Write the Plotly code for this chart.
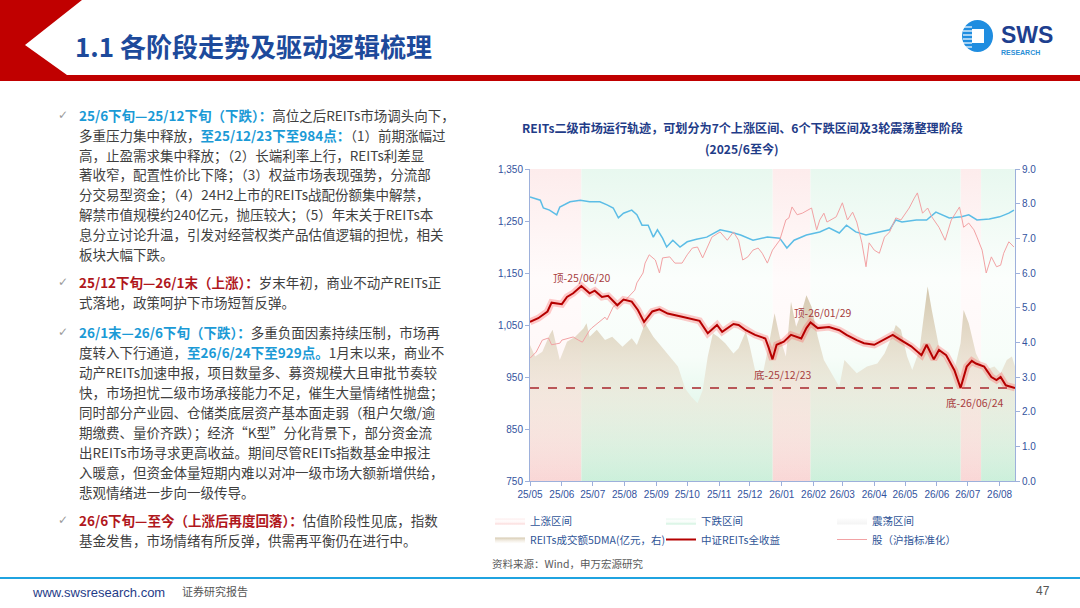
import plotly.graph_objects as go

# ---------------- data ----------------
x_start, x_end = "2025-05-01", "2026-08-16"

# 中证REITs全收益 (left axis)
reits_dates = ["2025-05-01","2025-05-09","2025-05-18","2025-05-22","2025-06-01","2025-06-06","2025-06-12","2025-06-17",
               "2025-06-20","2025-06-28","2025-07-03","2025-07-10","2025-07-16","2025-07-25","2025-07-31","2025-08-08",
               "2025-08-14","2025-08-20","2025-08-28","2025-09-04","2025-09-12","2025-09-26","2025-10-13","2025-10-21",
               "2025-10-30","2025-11-04","2025-11-15","2025-11-20","2025-11-27","2025-12-06","2025-12-16","2025-12-19",
               "2025-12-23","2025-12-27","2026-01-03","2026-01-10","2026-01-20","2026-01-25","2026-01-29","2026-02-05",
               "2026-02-16","2026-02-26","2026-03-05","2026-03-15","2026-03-22","2026-04-01","2026-04-09","2026-04-19",
               "2026-04-27","2026-05-07","2026-05-17","2026-05-22","2026-05-29","2026-06-03","2026-06-10","2026-06-18",
               "2026-06-24","2026-06-30","2026-07-05","2026-07-09","2026-07-17","2026-07-24","2026-07-29","2026-08-02",
               "2026-08-07","2026-08-13","2026-08-16"]
reits_vals = [1056,1063,1076,1093,1090,1104,1111,1121,
              1125,1111,1116,1104,1106,1088,1099,1095,
              1079,1056,1076,1080,1072,1066,1058,1034,
              1050,1037,1052,1050,1040,1031,1024,1008,
              984,1012,1018,1031,1024,1044,1055,1044,
              1046,1040,1031,1021,1015,1012,1020,1031,
              1021,1009,992,1012,984,1002,992,963,
              929,970,981,976,970,950,944,950,
              934,930,929]

# 股（沪指标准化） (left axis)
stock_dates = ["2025-05-01","2025-05-07","2025-05-13","2025-05-19","2025-05-22","2025-05-30","2025-06-01","2025-06-07",
               "2025-06-12","2025-06-17","2025-06-21","2025-06-28","2025-06-30","2025-07-13","2025-07-15","2025-07-21",
               "2025-07-31","2025-08-02","2025-08-11","2025-08-13","2025-08-19","2025-08-21","2025-08-25","2025-08-31",
               "2025-09-04","2025-09-07","2025-09-14","2025-09-19","2025-09-26","2025-10-01","2025-10-06","2025-10-11",
               "2025-10-16","2025-10-25","2025-11-02","2025-11-09","2025-11-15","2025-11-20","2025-11-24","2025-11-29",
               "2025-12-04","2025-12-09","2025-12-13","2025-12-18","2025-12-23","2025-12-30","2026-01-05","2026-01-08",
               "2026-01-11","2026-01-16","2026-01-21","2026-01-30","2026-02-04","2026-02-07","2026-02-11","2026-02-14",
               "2026-02-23","2026-03-01","2026-03-06","2026-03-11","2026-03-15","2026-03-20","2026-03-24","2026-03-27",
               "2026-04-01","2026-04-06","2026-04-11","2026-04-16","2026-04-22","2026-04-27","2026-05-05","2026-05-10",
               "2026-05-13","2026-05-18","2026-05-23","2026-05-27","2026-06-03","2026-06-09","2026-06-15","2026-06-23",
               "2026-06-27","2026-07-02","2026-07-07","2026-07-10","2026-07-15","2026-07-19","2026-07-24","2026-07-29",
               "2026-08-02","2026-08-05","2026-08-10","2026-08-15"]
stock_vals = [986,998,1021,1025,1012,1015,1021,1025,
              1027,1021,1017,1040,1044,1065,1060,1085,
              1098,1098,1117,1131,1150,1169,1185,1175,
              1150,1179,1181,1169,1169,1185,1198,1200,
              1179,1219,1229,1213,1229,1213,1175,1181,
              1194,1198,1188,1169,1194,1213,1252,1256,
              1277,1262,1265,1275,1233,1252,1265,1248,
              1258,1285,1252,1267,1248,1208,1162,1208,
              1194,1188,1219,1229,1256,1252,1275,1294,
              1304,1265,1275,1258,1238,1213,1252,1277,
              1238,1246,1233,1219,1194,1150,1181,1162,
              1165,1188,1210,1200]

# 未标注的蓝线 (left axis)
blue_dates = ["2025-05-01","2025-05-11","2025-05-14","2025-05-20","2025-05-27","2025-05-30","2025-06-09","2025-06-19",
              "2025-06-28","2025-07-08","2025-07-15","2025-07-21","2025-07-26","2025-07-31","2025-08-08","2025-08-13",
              "2025-08-18","2025-08-24","2025-08-29","2025-09-02","2025-09-07","2025-09-11","2025-09-17","2025-09-24",
              "2025-10-01","2025-10-10","2025-10-20","2025-11-02","2025-11-12","2025-11-22","2025-12-04","2025-12-18",
              "2025-12-30","2026-01-06","2026-01-13","2026-01-25","2026-02-07","2026-02-16","2026-02-26","2026-03-05",
              "2026-03-14","2026-03-24","2026-04-06","2026-04-16","2026-04-22","2026-04-28","2026-05-12","2026-05-22",
              "2026-05-31","2026-06-13","2026-06-25","2026-07-02","2026-07-10","2026-07-22","2026-08-01","2026-08-10",
              "2026-08-15"]
blue_vals = [1296,1290,1275,1271,1262,1277,1287,1290,
             1287,1287,1281,1275,1256,1265,1271,1262,
             1242,1242,1219,1233,1217,1200,1213,1200,
             1210,1215,1219,1233,1229,1223,1213,1219,
             1217,1198,1213,1223,1229,1237,1227,1242,
             1229,1223,1229,1233,1252,1248,1252,1252,
             1267,1256,1258,1262,1252,1254,1258,1265,
             1271]

# REITs成交额5DMA (亿元，右轴)
turn_dates = ["2025-05-01","2025-05-06","2025-05-13","2025-05-20","2025-05-23","2025-05-30","2025-06-06","2025-06-14",
              "2025-06-22","2025-06-25","2025-06-28","2025-07-05","2025-07-13","2025-07-20","2025-07-30","2025-08-08",
              "2025-08-13","2025-08-21","2025-08-29","2025-09-06","2025-09-12","2025-09-22","2025-09-29","2025-10-05",
              "2025-10-11","2025-10-16","2025-10-21","2025-10-26","2025-10-31","2025-11-07","2025-11-15","2025-11-20",
              "2025-11-27","2025-12-01","2025-12-06","2025-12-13","2025-12-19","2025-12-25","2025-12-30","2026-01-05",
              "2026-01-10","2026-01-15","2026-01-20","2026-01-25","2026-01-30","2026-02-05","2026-02-11","2026-02-18",
              "2026-02-26","2026-03-03","2026-03-10","2026-03-15","2026-03-25","2026-04-04","2026-04-11","2026-04-18",
              "2026-04-22","2026-04-27","2026-05-03","2026-05-08","2026-05-15","2026-05-20","2026-05-23","2026-05-27",
              "2026-06-03","2026-06-10","2026-06-18","2026-06-24","2026-06-27","2026-07-02","2026-07-09","2026-07-17",
              "2026-07-27","2026-08-02","2026-08-08","2026-08-13","2026-08-16"]
turn_vals = [3.92,3.59,3.73,4.21,4.36,3.49,4.02,4.16,
             4.40,4.55,4.16,4.36,4.07,4.16,3.87,4.12,
             3.92,4.55,4.16,3.87,3.68,3.30,2.67,2.43,
             2.24,2.62,3.59,4.26,4.16,3.97,3.68,3.83,
             4.31,3.87,3.20,3.01,3.87,4.84,4.16,3.59,
             5.17,4.45,4.84,5.36,5.03,4.16,3.49,3.11,
             2.72,3.49,3.25,3.11,3.30,3.39,3.68,4.16,
             4.50,4.36,3.59,3.20,3.78,4.93,5.61,4.93,
             3.87,3.49,3.20,3.97,4.93,4.55,3.68,3.20,
             3.30,3.11,3.49,3.59,3.30]

# 阶段划分
zone_starts = ["2025-05-01","2025-06-20","2025-12-23","2026-01-29","2026-06-24","2026-07-14"]
zone_ends   = ["2025-06-20","2025-12-23","2026-01-29","2026-06-24","2026-07-14","2026-08-16"]
zone_kinds  = ["上涨","下跌","上涨","下跌","上涨","下跌"]

floor_level = 929
left_ticks = [750, 850, 950, 1050, 1150, 1250, 1350]
right_ticks = [0, 1, 2, 3, 4, 5, 6, 7, 8, 9]

mark_kinds = ["顶", "底", "顶", "底"]
mark_dates = ["2025-06-20", "2025-12-23", "2026-01-29", "2026-06-24"]
mark_vals = [1125, 984, 1055, 929]

# ---------------- layout helpers ----------------
W, H = 1080, 608
ML, MR, MT, MB = 530, 65, 169, 127
PW, PH = W - ML - MR, H - MT - MB


def px(x):
    return (x - ML) / PW


def py(y):
    return (H - MB - y) / PH


CJK = "Noto Sans CJK SC"
TICKC = "#33539e"
AXC = "#9db0db"
BLUE_T = "#1b9ad6"
RED_T = "#b0171c"
BODY = "#3f3f3f"

fig = go.Figure()


def zone_path(kind):
    xs, ys = [], []
    lo, hi = right_ticks[0], right_ticks[-1]
    for s, e, k in zip(zone_starts, zone_ends, zone_kinds):
        if k == kind:
            xs += [s, e, e, s, s, None]
            ys += [lo, lo, hi, hi, lo, None]
    if not xs:  # no zone of this kind in the period: keep a legend entry only
        xs, ys = [x_start], [None]
    return xs, ys


zone_style = {
    "上涨": ("上涨区间", "rgb(252,228,228)",
           [[0, "rgb(250,214,214)"], [0.4, "rgb(255,248,248)"], [0.65, "rgb(255,251,251)"], [1, "rgb(253,236,236)"]], "legend"),
    "下跌": ("下跌区间", "rgb(222,245,232)",
           [[0, "rgb(202,240,219)"], [0.4, "rgb(247,253,249)"], [0.65, "rgb(251,254,252)"], [1, "rgb(232,248,239)"]], "legend2"),
    "震荡": ("震荡区间", "rgb(250,250,250)",
           [[0, "rgb(244,244,244)"], [1, "rgb(252,252,252)"]], "legend3"),
}
for kind in ["上涨", "下跌", "震荡"]:
    name, fc, cs, lg = zone_style[kind]
    xs, ys = zone_path(kind)
    fig.add_trace(go.Scatter(
        x=xs, y=ys, mode="lines", fill="toself", fillcolor=fc,
        fillgradient=dict(type="vertical", colorscale=cs),
        line=dict(width=0, color=fc), name=name, legend=lg, yaxis="y",
        hoverinfo="skip"))

fig.add_trace(go.Scatter(
    x=turn_dates, y=turn_vals, mode="lines", fill="tozeroy",
    fillcolor="rgba(214,200,172,0.8)",
    fillgradient=dict(type="vertical", start=0, stop=max(turn_vals),
                      colorscale=[[0, "rgba(240,233,218,0.05)"], [0.45, "rgba(234,225,208,0.55)"],
                                  [1, "rgba(208,194,166,0.92)"]]),
    line=dict(width=0, color="rgb(214,200,172)"),
    name="REITs成交额5DMA(亿元，右)", legend="legend", yaxis="y"))

fig.add_trace(go.Scatter(
    x=blue_dates, y=blue_vals, mode="lines", line=dict(color="#5cbde6", width=1.5),
    showlegend=False, yaxis="y2"))

fig.add_trace(go.Scatter(
    x=stock_dates, y=stock_vals, mode="lines", line=dict(color="#f2a2a4", width=1),
    name="股（沪指标准化）", legend="legend3", yaxis="y2"))

fig.add_trace(go.Scatter(
    x=[x_start, x_end], y=[floor_level, floor_level], mode="lines",
    line=dict(color="#a8262b", width=1.5, dash="dash"), showlegend=False, yaxis="y2"))

fig.add_trace(go.Scatter(
    x=reits_dates, y=reits_vals, mode="lines", line=dict(color="rgba(255,70,70,0.28)", width=7),
    showlegend=False, yaxis="y2", hoverinfo="skip"))
fig.add_trace(go.Scatter(
    x=reits_dates, y=reits_vals, mode="lines", line=dict(color="#b50000", width=2),
    name="中证REITs全收益", legend="legend2", yaxis="y2"))

ann = []
mark_shift = {"顶-25/06/20": (1, 9), "底-25/12/23": (10, -15), "顶-26/01/29": (12, 10), "底-26/06/24": (14, -15)}
for k, d, v in zip(mark_kinds, mark_dates, mark_vals):
    label = f"{k}-{d[2:].replace('-', '/')}"
    dx, dy = mark_shift[label]
    ann.append(dict(x=d, y=v, xref="x", yref="y2", text=label, showarrow=False,
                    xanchor="center", yanchor="middle",
                    xshift=dx, yshift=dy, font=dict(family=CJK, size=10.5, color="#a8403f")))


def txt(x, y, text, size, color, family=CJK, xanchor="left"):
    return dict(x=px(x), y=py(y), xref="paper", yref="paper", showarrow=False,
                xanchor=xanchor, yanchor="middle", text=text,
                font=dict(family=family, size=size, color=color))


# chart title & source
ann.append(txt(742, 127, "<b>REITs二级市场运行轨迹，可划分为7个上涨区间、6个下跌区间及3轮震荡整理阶段</b>",
               12.1, "#1f3c88", xanchor="center"))
ann.append(txt(742, 148, "<b>(2025/6至今)</b>", 12.1, "#1f3c88", xanchor="center"))
ann.append(txt(490, 563, "资料来源：Wind，申万宏源研究", 10.5, "#595959"))

# header
ann.append(txt(73, 45, "<b>1.1 各阶段走势及驱动逻辑梳理</b>", 26, "#1d4a9b"))
ann.append(txt(1027, 35, "<b>SWS</b>", 23, "#1e3f8f", family="Liberation Sans", xanchor="center"))
ann.append(txt(1020, 52, "<b>RESEARCH</b>", 7, "#2b8fd6", family="Liberation Sans", xanchor="center"))

# footer
ann.append(txt(30, 592, "www.swsresearch.com", 13, "#1f3c88", family="Liberation Sans Narrow, Liberation Sans"))
ann.append(txt(180, 591, "证券研究报告", 11, "#555555"))
ann.append(txt(1052, 591, "47", 12, "#555555", family="Liberation Sans", xanchor="right"))


def c(t, col):
    return f'<span style="color:{col}"><b>{t}</b></span>'


paragraphs = [
    (115, 19.8, [
        c("25/6下旬—25/12下旬（下跌）：", BLUE_T) + "高位之后REITs市场调头向下，",
        "多重压力集中释放，" + c("至25/12/23下至984点：", BLUE_T) + "（1）前期涨幅过",
        "高，止盈需求集中释放；（2）长端利率上行，REITs利差显",
        "著收窄，配置性价比下降；（3）权益市场表现强势，分流部",
        "分交易型资金；（4）24H2上市的REITs战配份额集中解禁，",
        "解禁市值规模约240亿元，抛压较大；（5）年末关于REITs本",
        "息分立讨论升温，引发对经营权类产品估值逻辑的担忧，相关",
        "板块大幅下跌。",
    ]),
    (282, 20, [
        c("25/12下旬—26/1末（上涨）：", RED_T) + "岁末年初，商业不动产REITs正",
        "式落地，政策呵护下市场短暂反弹。",
    ]),
    (332, 20, [
        c("26/1末—26/6下旬（下跌）：", BLUE_T) + "多重负面因素持续压制，市场再",
        "度转入下行通道，" + c("至26/6/24下至929点。", BLUE_T) + "1月末以来，商业不",
        "动产REITs加速申报，项目数量多、募资规模大且审批节奏较",
        "快，市场担忧二级市场承接能力不足，催生大量情绪性抛盘；",
        "同时部分产业园、仓储类底层资产基本面走弱（租户欠缴/逾",
        "期缴费、量价齐跌）；经济“K型”分化背景下，部分资金流",
        "出REITs市场寻求更高收益。期间尽管REITs指数基金申报注",
        "入暖意，但资金体量短期内难以对冲一级市场大额新增供给，",
        "悲观情绪进一步向一级传导。",
    ]),
    (520, 19.5, [
        c("26/6下旬—至今（上涨后再度回落）：", RED_T) + "估值阶段性见底，指数",
        "基金发售，市场情绪有所反弹，供需再平衡仍在进行中。",
    ]),
]
for y0, dy, lines in paragraphs:
    ann.append(txt(56, y0, "✓", 12, "#9a9a9a", family="DejaVu Sans"))
    for i, t in enumerate(lines):
        ann.append(txt(77, y0 + i * dy, t, 13.5, BODY))


# shapes: header chevron, bar, logo, footer line
def P(x, y):
    return f"{px(x):.5f},{py(y):.5f}"


shapes = [
    dict(type="path", xref="paper", yref="paper", layer="above", line=dict(width=0), fillcolor="#c00000",
         path="M" + P(0, 0) + " L" + P(82, 0) + " L" + P(25, 45) + " L" + P(67, 75) + " L" + P(1080, 75)
              + " L" + P(1080, 81) + " L" + P(0, 81) + " Z"),
    dict(type="circle", xref="paper", yref="paper", layer="above", line=dict(width=0), fillcolor="#1f8de0",
         x0=px(962), x1=px(993), y0=py(52), y1=py(20)),
    dict(type="rect", xref="paper", yref="paper", layer="above", line=dict(width=0), fillcolor="white",
         x0=px(972), x1=px(984), y0=py(43), y1=py(29)),
    dict(type="line", xref="paper", yref="paper", layer="above", line=dict(width=2, color="#1fa3e0"),
         x0=px(0), x1=px(1080), y0=py(578), y1=py(578)),
]
for yy in [27, 31, 35, 39, 43, 47]:
    shapes.append(dict(type="line", xref="paper", yref="paper", layer="above",
                       line=dict(width=1.2, color="white"), x0=px(963), x1=px(972), y0=py(yy), y1=py(yy)))

axis_common = dict(showline=True, linecolor=AXC, linewidth=1, showgrid=False, zeroline=False,
                   ticks="outside", ticklen=4, tickcolor=AXC,
                   tickfont=dict(family="Liberation Sans", size=10, color=TICKC))

legend_common = dict(xanchor="left", yanchor="top", bgcolor="rgba(0,0,0,0)",
                     font=dict(family=CJK, size=10.5, color="#2f5597"), itemwidth=30, tracegroupgap=0)

fig.update_layout(
    width=W, height=H, margin=dict(l=ML, r=MR, t=MT, b=MB, pad=0),
    paper_bgcolor="white", plot_bgcolor="white",
    xaxis=dict(type="date", range=[x_start, x_end], tickformat="%y/%m", dtick="M1", tick0=x_start,
               anchor="y", **axis_common),
    yaxis=dict(side="right", range=[right_ticks[0], right_ticks[-1]], tickvals=right_ticks,
               tickformat=".1f", **axis_common),
    yaxis2=dict(side="left", overlaying="y", range=[left_ticks[0], left_ticks[-1]], tickvals=left_ticks,
                tickformat=",", **axis_common),
    legend=dict(x=px(490), y=py(506), **legend_common),
    legend2=dict(x=px(661), y=py(506), **legend_common),
    legend3=dict(x=px(832), y=py(506), **legend_common),
    annotations=ann, shapes=shapes, hovermode=False,
)

fig.write_html("out.html", config={"displayModeBar": False},
               post_script="document.body.style.margin='0px';")
